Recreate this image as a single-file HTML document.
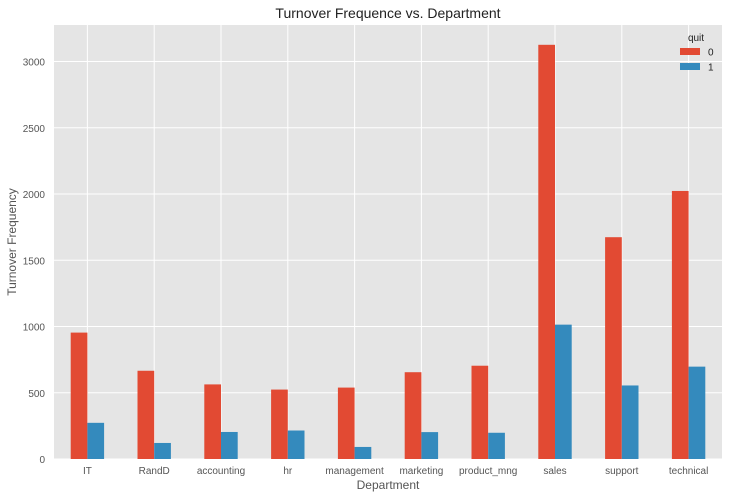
<!DOCTYPE html>
<html><head><meta charset="utf-8"><style>
body{margin:0;background:#fff;font-family:"Liberation Sans",sans-serif}
svg text{font-family:"Liberation Sans",sans-serif}
</style></head><body>
<svg id="c" width="729" height="499"></svg>
<script>
const categories=["IT","RandD","accounting","hr","management","marketing","product_mng","sales","support","technical"];
const stayed=[954,666,563,524,539,655,704,3126,1674,2023];
const quit=[273,121,204,215,91,203,198,1014,555,697];
const yTicks=[0,500,1000,1500,2000,2500,3000];
const L=54,R=722,T=25,B=459,yMax=3300;
const svg=document.getElementById('c');const NS='http://www.w3.org/2000/svg';
function y(v){return B-(v)*(397.5/3000);}
const step=(R-L)/categories.length;
function x(i){return L+step*(i+0.5);}
function mk(t,a,txt){const e=document.createElementNS(NS,t);for(const k in a)e.setAttribute(k,a[k]);if(txt!==undefined)e.textContent=txt;svg.appendChild(e);return e;}
let e=mk('rect',{x:L,y:T,width:R-L,height:B-T,fill:'#e5e5e5'});


yTicks.forEach(t=>{
 let g=mk('line',{x1:L,x2:R,y1:y(t),y2:y(t),stroke:'#fff','stroke-width':1});
 
 
 let l=mk('text',{x:L-9,y:y(t)+4,'text-anchor':'end','font-size':10,fill:'#555'},t);
 
 
});
categories.forEach((c,i)=>{
 let g=mk('line',{x1:x(i),x2:x(i),y1:T,y2:B,stroke:'#fff','stroke-width':1});
 
 
});
const bw=step*0.25;
categories.forEach((c,i)=>{
 let a=mk('rect',{x:x(i)-bw,y:y(stayed[i]),width:bw,height:B-y(stayed[i]),fill:'#e24a33'});
 
 
 let b=mk('rect',{x:x(i),y:y(quit[i]),width:bw,height:B-y(quit[i]),fill:'#348abd'});
 
 
 let l=mk('text',{x:x(i),y:B+15,'text-anchor':'middle','font-size':10,fill:'#555'},c);
 
 
});
e=mk('text',{x:388,y:18,'text-anchor':'middle','font-size':14,fill:'#222'},'Turnover Frequence vs. Department');


e=mk('text',{x:388,y:489,'text-anchor':'middle','font-size':12,fill:'#555'},'Department');


e=mk('text',{x:16,y:242,'text-anchor':'middle','font-size':12,fill:'#555',transform:'rotate(-90 16 242)'},'Turnover Frequency');


e=mk('text',{x:696,y:41,'text-anchor':'middle','font-size':10,fill:'#222'},'quit');


[['0','#e24a33',52],['1','#348abd',67]].forEach(([lab,col,yy])=>{
 let r=mk('rect',{x:680,y:yy-4,width:20,height:7,fill:col});
 
 
 let t=mk('text',{x:708,y:yy+3.5,'font-size':10,fill:'#222'},lab);
 
 
});
</script>
</body></html>
